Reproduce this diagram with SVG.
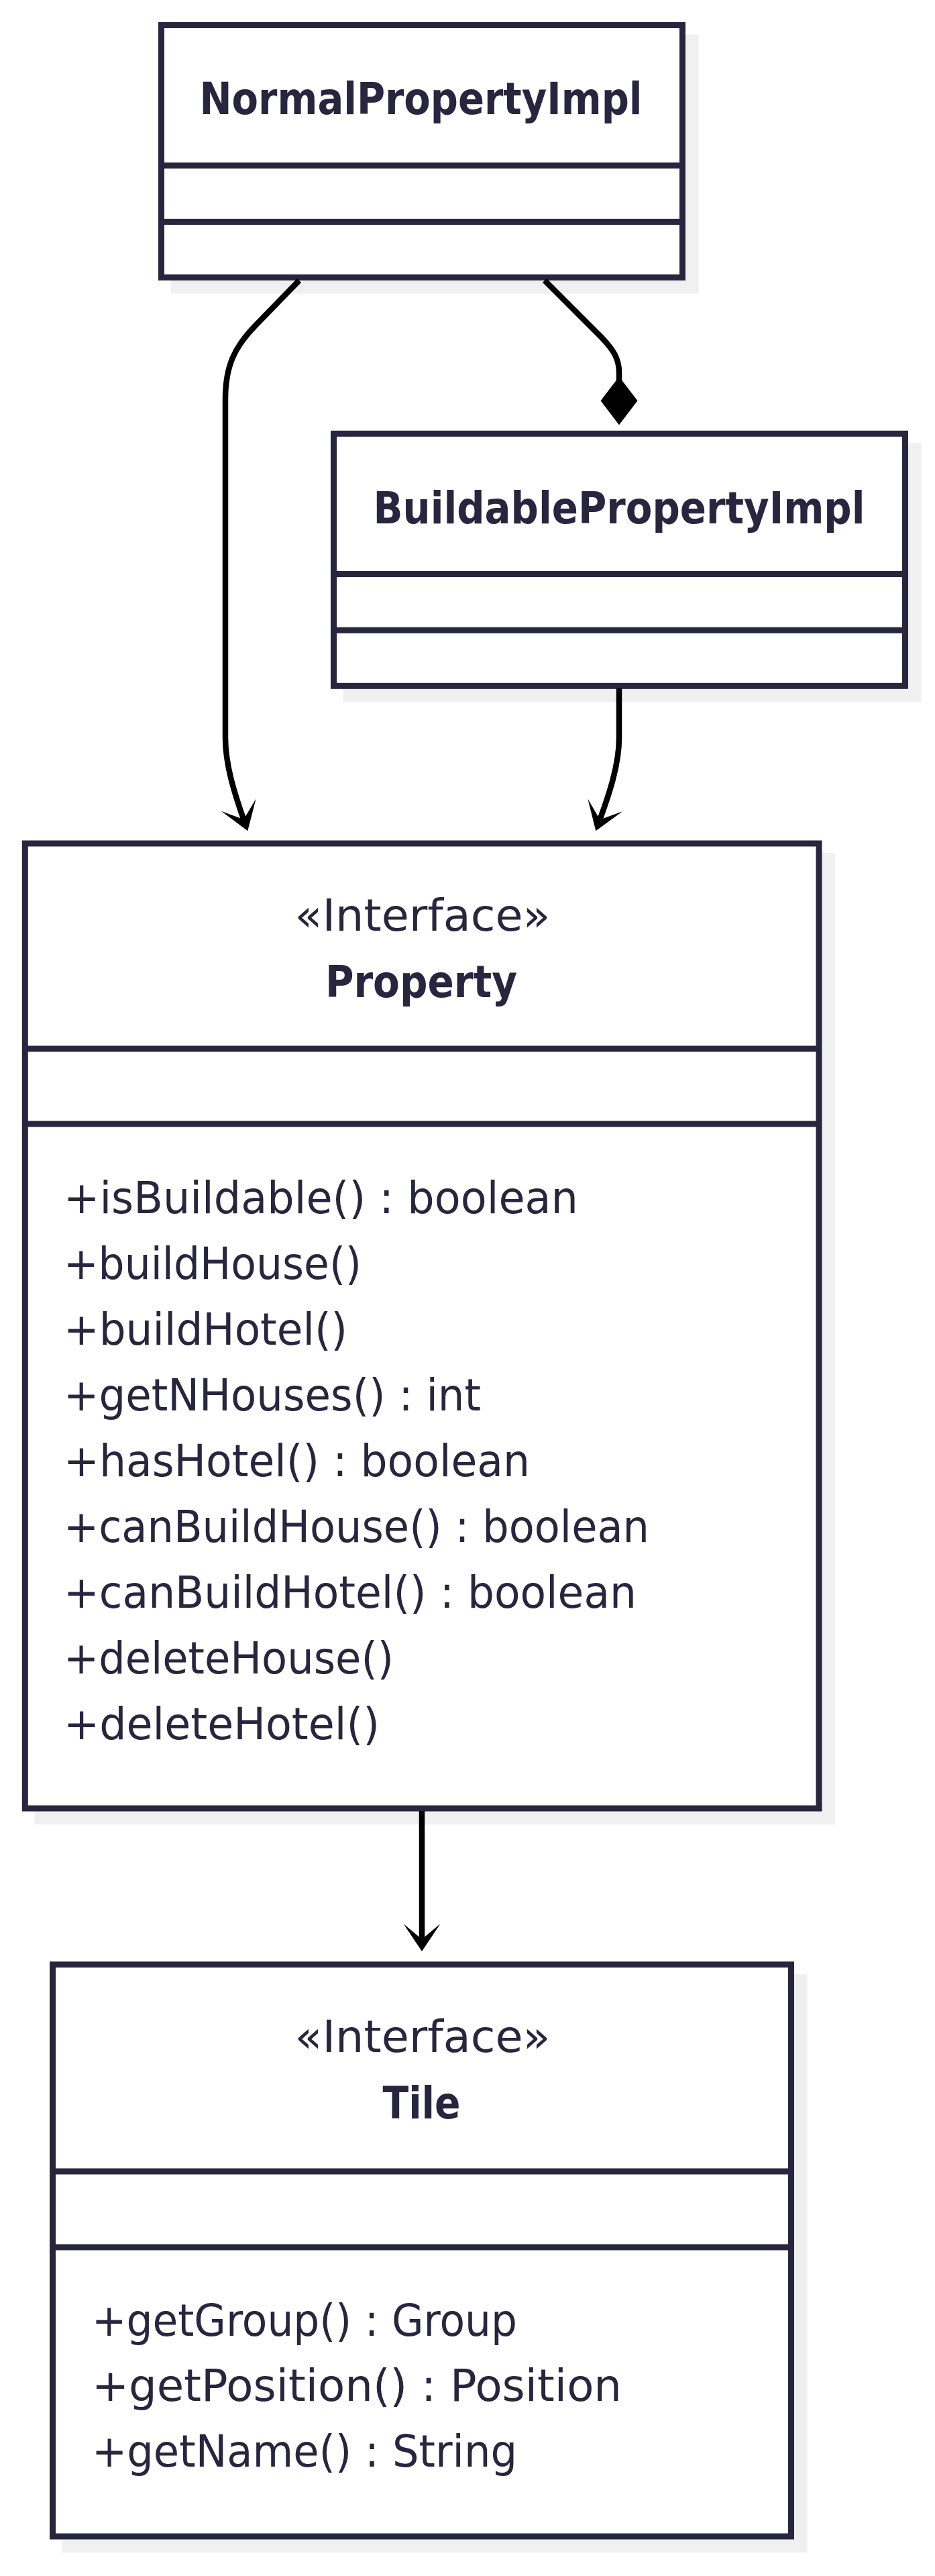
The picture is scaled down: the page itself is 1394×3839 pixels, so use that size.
<svg xmlns="http://www.w3.org/2000/svg" width="1394" height="3839" viewBox="0 0 1394 3839">
  <style>
    .shadow { fill: #f0f0f0; stroke: none; }
    .box { fill: #ffffff; stroke: #28263e; stroke-width: 9; }
    .sep { stroke: #28263e; stroke-width: 9; }
    .name { font-family: "DejaVu Sans", "Liberation Sans", sans-serif; font-weight: bold; font-size: 66px; fill: #28263e; text-anchor: middle; }
    .stereo { font-family: "DejaVu Sans", "Liberation Sans", sans-serif; font-size: 66px; fill: #28263e; text-anchor: middle; }
    .member { font-family: "DejaVu Sans", "Liberation Sans", sans-serif; font-size: 66px; fill: #28263e; }
    .edge { fill: none; stroke: #000000; stroke-width: 8.5; }
  </style>
  <defs>
    <marker id="arrowHead" markerUnits="userSpaceOnUse" orient="auto" viewBox="-25 -30 45 60" refX="0" refY="0" markerWidth="45" markerHeight="60" overflow="visible">
      <path d="M18,0 L-23,-27.5 L0,0 L-23,27.5 Z" fill="#000000"/>
    </marker>
    <marker id="compositeDiamond" markerUnits="userSpaceOnUse" orient="auto" viewBox="-74 -30 76 60" refX="-33" refY="0" markerWidth="76" markerHeight="60" overflow="visible">
      <path d="M0,0 L-36,-27.5 L-72,0 L-36,27.5 Z" fill="#000000"/>
    </marker>
  </defs>

  <rect width="1394" height="3839" fill="#ffffff"/>

  <!-- NormalPropertyImpl -->
  <g id="NormalPropertyImpl">
    <rect class="shadow" x="254.5" y="51.5" width="787" height="386"/>
    <rect class="box" x="240.5" y="37.5" width="777" height="376"/>
    <line class="sep" x1="240.5" y1="246.7" x2="1017.5" y2="246.7"/>
    <line class="sep" x1="240.5" y1="330.5" x2="1017.5" y2="330.5"/>
    <text class="name" x="627.5" y="170" textLength="660" lengthAdjust="spacingAndGlyphs">NormalPropertyImpl</text>
  </g>

  <!-- BuildablePropertyImpl -->
  <g id="BuildablePropertyImpl">
    <rect class="shadow" x="511.5" y="660.3" width="862" height="386"/>
    <rect class="box" x="497.5" y="646.3" width="852" height="376"/>
    <line class="sep" x1="497.5" y1="855.5" x2="1349.5" y2="855.5"/>
    <line class="sep" x1="497.5" y1="939.3" x2="1349.5" y2="939.3"/>
    <text class="name" x="923" y="779.5" textLength="733" lengthAdjust="spacingAndGlyphs">BuildablePropertyImpl</text>
  </g>

  <!-- Property interface -->
  <g id="Property">
    <rect class="shadow" x="51.3" y="1271" width="1193.7" height="1448"/>
    <rect class="box" x="37.3" y="1257" width="1183.7" height="1438"/>
    <line class="sep" x1="37.3" y1="1563" x2="1221" y2="1563"/>
    <line class="sep" x1="37.3" y1="1675" x2="1221" y2="1675"/>
    <text class="stereo" x="630" y="1387" textLength="381" lengthAdjust="spacingAndGlyphs">«Interface»</text>
    <text class="name" x="628" y="1486" textLength="286" lengthAdjust="spacingAndGlyphs">Property</text>
    <text class="member" x="95" y="1808" textLength="767" lengthAdjust="spacingAndGlyphs">+isBuildable() : boolean</text>
    <text class="member" x="95" y="1906" textLength="444" lengthAdjust="spacingAndGlyphs">+buildHouse()</text>
    <text class="member" x="95" y="2004" textLength="423" lengthAdjust="spacingAndGlyphs">+buildHotel()</text>
    <text class="member" x="95" y="2102" textLength="622" lengthAdjust="spacingAndGlyphs">+getNHouses() : int</text>
    <text class="member" x="95" y="2200" textLength="695" lengthAdjust="spacingAndGlyphs">+hasHotel() : boolean</text>
    <text class="member" x="95" y="2298" textLength="873" lengthAdjust="spacingAndGlyphs">+canBuildHouse() : boolean</text>
    <text class="member" x="95" y="2396" textLength="854" lengthAdjust="spacingAndGlyphs">+canBuildHotel() : boolean</text>
    <text class="member" x="95" y="2494" textLength="492" lengthAdjust="spacingAndGlyphs">+deleteHouse()</text>
    <text class="member" x="95" y="2592" textLength="471" lengthAdjust="spacingAndGlyphs">+deleteHotel()</text>
  </g>

  <!-- Tile interface -->
  <g id="Tile">
    <rect class="shadow" x="92.5" y="2941.8" width="1111" height="862.2"/>
    <rect class="box" x="78.5" y="2927.8" width="1101" height="852.2"/>
    <line class="sep" x1="78.5" y1="3236" x2="1179.5" y2="3236"/>
    <line class="sep" x1="78.5" y1="3349" x2="1179.5" y2="3349"/>
    <text class="stereo" x="630" y="3058" textLength="381" lengthAdjust="spacingAndGlyphs">«Interface»</text>
    <text class="name" x="628.5" y="3157" textLength="116" lengthAdjust="spacingAndGlyphs">Tile</text>
    <text class="member" x="137" y="3480.5" textLength="634" lengthAdjust="spacingAndGlyphs">+getGroup() : Group</text>
    <text class="member" x="137" y="3578" textLength="790" lengthAdjust="spacingAndGlyphs">+getPosition() : Position</text>
    <text class="member" x="137" y="3675.5" textLength="634" lengthAdjust="spacingAndGlyphs">+getName() : String</text>
  </g>

  <!-- relations -->
  <g id="connectors">
    <path class="edge" d="M446,418 L380,486 C350,517 336,545 336,595 L336,1100 C336,1140 350,1183.6 363.3,1221.3" marker-end="url(#arrowHead)"/>
    <path class="edge" d="M812,418 L897,503 C915,522 923,535 923,555 L923,600.3" marker-end="url(#compositeDiamond)"/>
    <path class="edge" d="M923,1026 L923,1100 C923,1140 908,1183.8 894.4,1221.4" marker-end="url(#arrowHead)"/>
    <path class="edge" d="M629,2699 L629,2890" marker-end="url(#arrowHead)"/>
  </g>
</svg>
